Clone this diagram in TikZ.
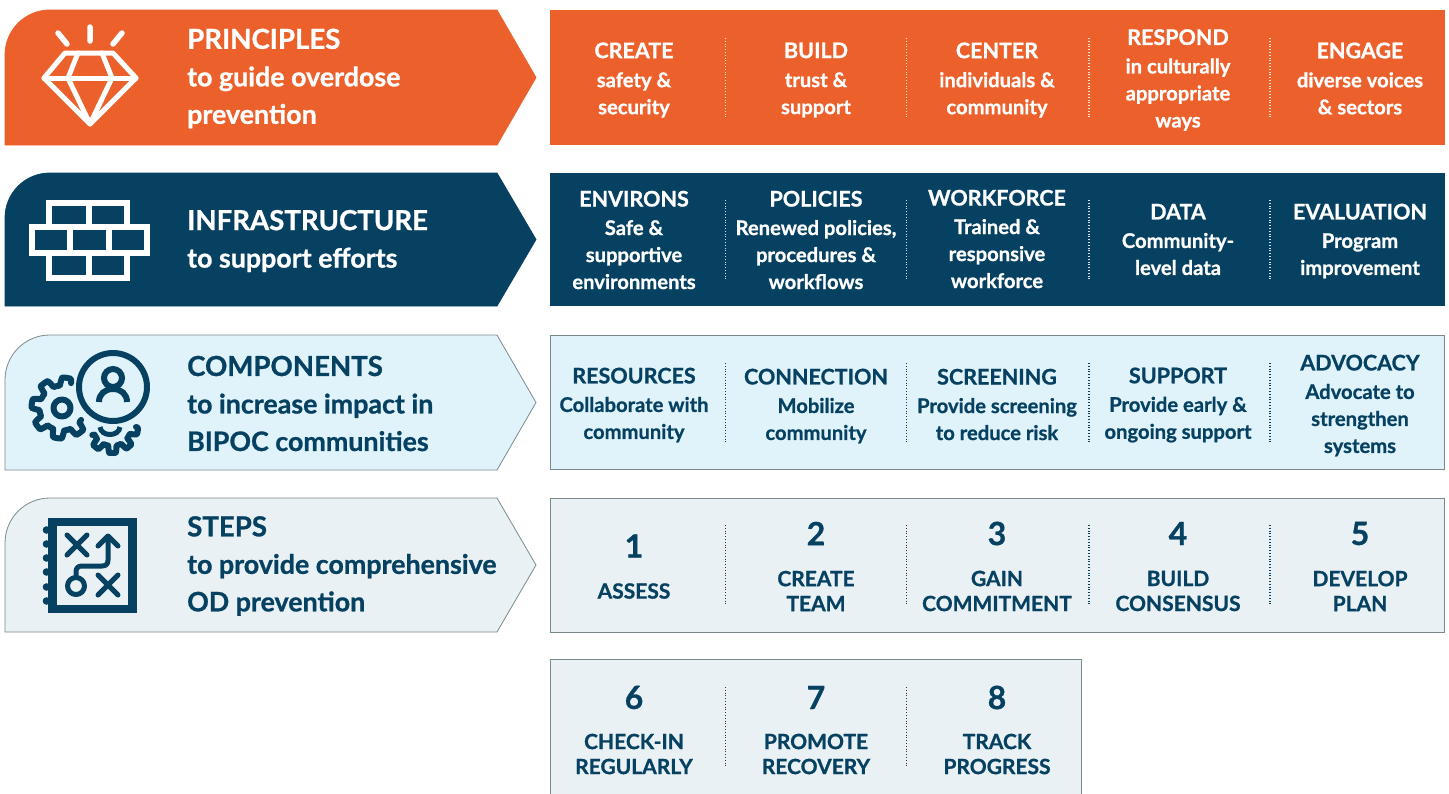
\documentclass[tikz,border=0pt]{standalone}
\usepackage{fontspec}
\setmainfont{Lato}[BoldFeatures={FakeBold=0.9}]
\usepackage{tikz}
\usetikzlibrary{calc,positioning}
\definecolor{orangeband}{HTML}{EB602B}
\definecolor{navyband}{HTML}{064162}
\definecolor{skyband}{HTML}{E0F3FB}
\definecolor{mistband}{HTML}{E9F1F4}
\definecolor{edgegrey}{HTML}{7A8A8C}

\begin{document}
\begin{tikzpicture}[
                x=1pt,y=-1pt,
                every node/.style={font=\bfseries,align=center,inner sep=0pt},
                bandtext/.style={align=left,anchor=west,font=\fontsize{26.8}{37.5}\selectfont\bfseries},
                celltext/.style={font=\fontsize{20.2}{27}\selectfont\bfseries},
                stepnum/.style={font=\fontsize{32}{36}\selectfont\bfseries},
                steplabel/.style={font=\fontsize{21}{25}\selectfont\bfseries},
                panel/.style={draw=edgegrey,line width=.8pt,minimum width=894pt,minimum height=134pt},
                divider/.style={line width=1.2pt,dash pattern=on 1pt off 1.8pt},
                icon/.style={line width=5pt,line cap=round,line join=round}
            ]
            \def\hd#1{{\fontsize{21.5}{27}\selectfont #1}}
            \def\bd#1{{\fontsize{27.6}{37.5}\selectfont #1}}
            \useasboundingbox (0,0) rectangle (1449,793);

            % draw the arrow bands
            \foreach \t/\b/\c/\e in {10/145/orangeband/orangeband, 173/306/navyband/navyband,
                    335/470/skyband/edgegrey, 498/632/mistband/edgegrey}
                \draw[fill=\c,draw=\e,line width=.8pt] (5,\b) -- (5,\t+45)
                    .. controls (5,\t+20) and (25,\t) .. (50,\t)
                    -- (497,\t) -- (536,{(\t+\b)/2}) -- (497,\b) -- cycle;

            % draw the panels
            \node[panel,draw=orangeband,fill=orangeband] (prinPanel) at (997.5,77.5) {};
            \node[panel,draw=navyband,fill=navyband,minimum height=132pt] (infraPanel) at (997.5,239.5) {};
            \node[panel,fill=skyband] (compPanel) at (997.5,402.5) {};
            \node[panel,fill=mistband] (stepPanel) at (997.5,565) {};
            \node[panel,fill=mistband,minimum width=531pt,minimum height=137pt] (morePanel) at (816,728) {};

            % the dotted dividers
            \foreach \y/\c in {38/white!85!orangeband,200/white!85!navyband,363/navyband,525/navyband,687/navyband} {
                \foreach \x in {725.5,906.5}
                    \draw[divider,\c] (\x,\y) -- (\x,\y+80);
            }
            \foreach \y/\c in {38/white!85!orangeband,200/white!85!navyband,363/navyband,525/navyband} {
                \foreach \x in {1089,1270}
                    \draw[divider,\c] (\x,\y) -- (\x,\y+80);
            }

            % band titles
            \node[bandtext,white] (prinTitle) at (187,78.5) {\bd{PRINCIPLES}\\to guide overdose\\prevention};
            \node[bandtext,white] (infraTitle) at (187,241) {\bd{INFRASTRUCTURE}\\to support efforts};
            \node[bandtext,navyband] (compTitle) at (187,403.5) {\bd{COMPONENTS}\\to increase impact in\\BIPOC communities};
            \node[bandtext,navyband] (stepTitle) at (187,566) {\bd{STEPS}\\to provide comprehensive\\OD prevention};

            % principles
            \foreach \x/\y/\txt [count=\xi] in {
                    634/80/{\hd{CREATE}\\[2pt]safety \&\\security},
                    816/80/{\hd{BUILD}\\[2pt]trust \&\\support},
                    997/80/{\hd{CENTER}\\[2pt]individuals \&\\community},
                    1178/80/{\hd{RESPOND}\\[1.5pt]in culturally\\appropriate\\ways},
                    1360/78.5/{\hd{ENGAGE}\\[2pt]diverse voices\\\& sectors}}
                \node[celltext,white] (prin\xi) at (\x,\y) {\txt};

            % infrastructure
            \foreach \x/\y/\txt [count=\xi] in {
                    634/240/{\hd{ENVIRONS}\\[1.5pt]Safe \&\\supportive\\environments},
                    816/240/{\hd{POLICIES}\\[1.5pt]Renewed policies,\\procedures \&\\workflows},
                    997/239/{\hd{WORKFORCE}\\[1.5pt]Trained \&\\responsive\\workforce},
                    1178/239.5/{\hd{DATA}\\[1.5pt]Community-\\level data},
                    1360/241/{\hd{EVALUATION}\\[1.5pt]Program\\improvement}}
                \node[celltext,white] (infra\xi) at (\x,\y) {\txt};

            % components
            \foreach \x/\y/\txt [count=\xi] in {
                    634/405/{\hd{RESOURCES}\\[1.5pt]Collaborate with\\community},
                    816/406/{\hd{CONNECTION}\\[1.5pt]Mobilize\\community},
                    997/404.5/{\hd{SCREENING}\\[1.5pt]Provide screening\\to reduce risk},
                    1178/405/{\hd{SUPPORT}\\[1.5pt]Provide early \&\\ongoing support},
                    1360/405.5/{\hd{ADVOCACY}\\[1.5pt]Advocate to\\strengthen\\systems}}
                \node[celltext,navyband] (comp\xi) at (\x,\y) {\txt};

            % steps
            \foreach \x/\n/\txt [count=\xi] in {
                    816/2/{CREATE\\TEAM}, 997/3/{GAIN\\COMMITMENT},
                    1178/4/{BUILD\\CONSENSUS}, 1360/5/{DEVELOP\\PLAN}} {
                \node[stepnum,navyband] (num\xi) at (\x,533.5) {\n};
                \node[steplabel,navyband] (lab\xi) at (\x,591) {\txt};
            }
            \node[stepnum,navyband] (numOne) at (634,546) {1};
            \node[steplabel,navyband] (labOne) at (634,591) {ASSESS};
            \foreach \x/\n/\txt [count=\xi] in {
                    634/6/{CHECK-IN\\REGULARLY}, 816/7/{PROMOTE\\RECOVERY}, 997/8/{TRACK\\PROGRESS}} {
                \node[stepnum,navyband] (numb\xi) at (\x,697.5) {\n};
                \node[steplabel,navyband] (labb\xi) at (\x,754) {\txt};
            }

            % diamond icon
            \draw[icon,white] (65,53) -- (113,53) -- (136,78) -- (90,124) -- (44,78) -- cycle;
            \draw[icon,white] (44,78) -- (136,78);
            \draw[icon,white] (78,53) -- (68,78) -- (90,124) -- (112,78) -- (102,53);
            \draw[icon,white,line width=5.5pt] (58,33) -- (67,44) (90,27) -- (90,41) (122,33) -- (113,44);

            % brick icon
            \draw[white,line width=5.5pt] (49,203) rectangle (127,227) (89,203) -- (89,227);
            \draw[white,line width=5.5pt] (32,227) rectangle (147,253) (70,227) -- (70,253) (109,227) -- (109,253);
            \draw[white,line width=5.5pt] (49,253) rectangle (127,278) (89,253) -- (89,278);

            % gears and person icon
            \draw[icon,navyband,line width=6pt] (113,387) circle[radius=34];
            \draw[navyband,line width=6pt] (113,378) circle[radius=9];
            \draw[navyband,line width=6pt] (99,402) .. controls (99,394) and (105,389) .. (113,389)
                .. controls (121,389) and (127,394) .. (127,402);
            \draw[icon,navyband,line width=6pt] (62,408) circle[radius=8.5];
            \draw[icon,navyband,line width=6pt] plot[domain=32:290,samples=260,smooth]
                ({62+(26.5+4*max(-1,min(1,2.5*sin(8*\x+20))))*cos(\x)},{408+(26.5+4*max(-1,min(1,2.5*sin(8*\x+20))))*sin(\x)});
            \draw[icon,navyband,line width=6pt] plot[domain=0:158,samples=180,smooth]
                ({112+(22.5+3.5*max(-1,min(1,2.5*sin(9*\x+10))))*cos(\x)},{427+(22.5+3.5*max(-1,min(1,2.5*sin(9*\x+10))))*sin(\x)});
            \draw[navyband,line width=5pt] (100,427) .. controls (101,437) and (119,437) .. (120,427);

            % plan icon
            \draw[navyband,line width=8.5pt] (52.5,522) rectangle (132.5,609);
            \foreach \y in {530,544,558,572,587,601}
                \fill[navyband] (46.5,\y) circle[radius=3.8];
            \draw[icon,navyband] (67,535) -- (87,555) (87,535) -- (67,555);
            \draw[icon,navyband] (98,575) -- (118,595) (118,575) -- (98,595);
            \draw[icon,navyband] (76,586) circle[radius=8.5];
            \draw[icon,navyband,line cap=butt] (76,577) -- (76,572) .. controls (76,568) and (78,566) .. (82,566)
                -- (102,566) .. controls (106,566) and (108,564) .. (108,560) -- (108,537);
            \draw[icon,navyband] (98,546) -- (108,536) -- (118,546);
        \end{tikzpicture}
\end{document}
